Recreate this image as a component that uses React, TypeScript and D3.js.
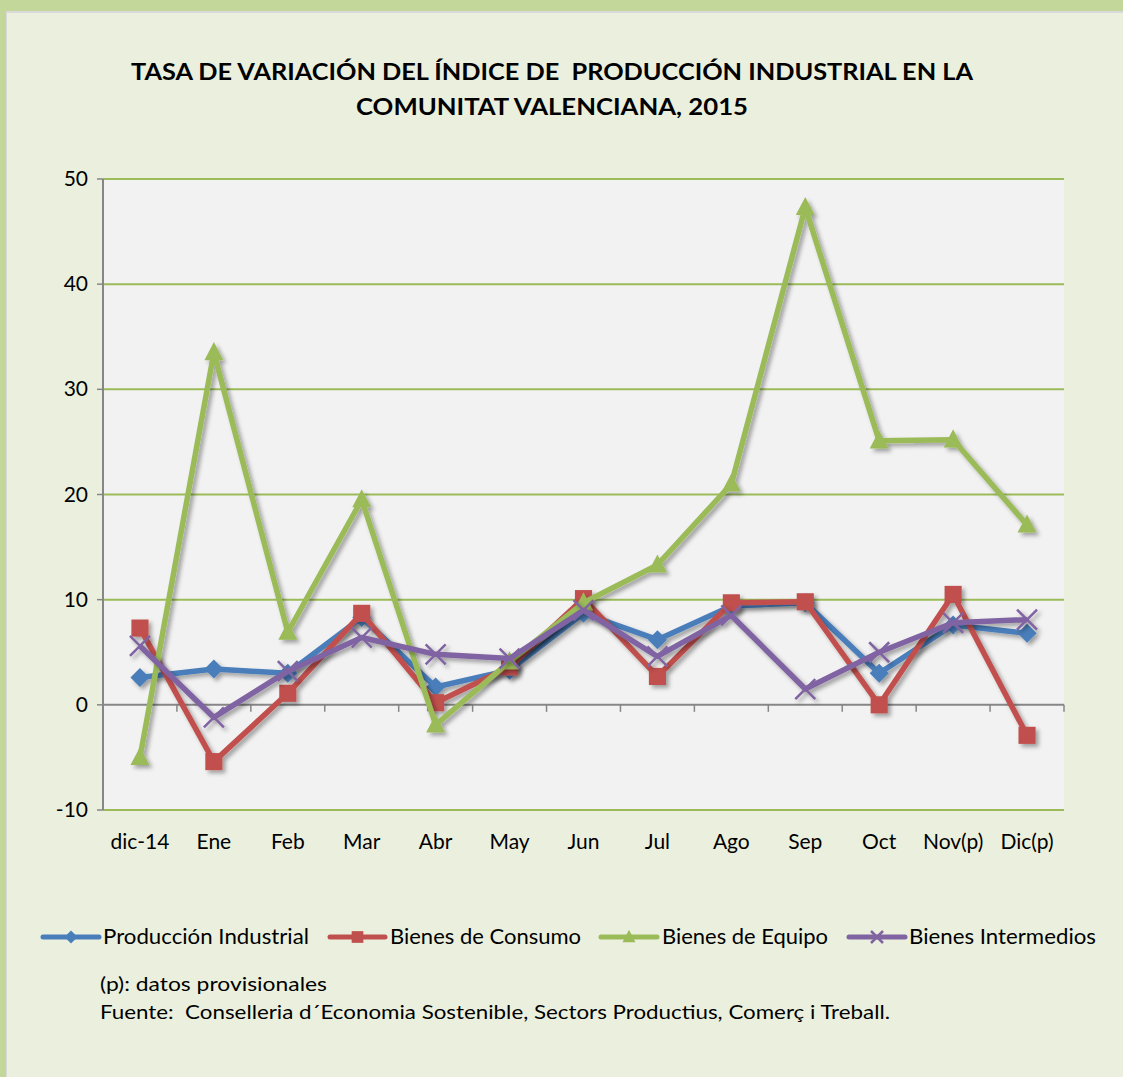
import React, { useEffect, useRef } from 'react';
import * as d3 from 'd3';

const categories = ['dic-14', 'Ene', 'Feb', 'Mar', 'Abr', 'May', 'Jun', 'Jul', 'Ago', 'Sep', 'Oct', 'Nov(p)', 'Dic(p)'];
const produccionIndustrial = [2.6, 3.4, 3.0, 8.3, 1.7, 3.3, 8.7, 6.2, 9.4, 9.7, 3.0, 7.6, 6.8];
const bienesConsumo = [7.3, -5.4, 1.1, 8.7, 0.2, 3.6, 10.1, 2.7, 9.7, 9.8, 0.0, 10.5, -2.9];
const bienesEquipo = [-5.0, 33.5, 6.9, 19.5, -1.9, 4.1, 9.7, 13.3, 21.0, 47.3, 25.1, 25.2, 17.1];
const bienesIntermedios = [5.6, -1.2, 3.2, 6.4, 4.8, 4.4, 9.0, 4.6, 8.5, 1.5, 5.0, 7.8, 8.1];
const yTicks = [-10, 0, 10, 20, 30, 40, 50];

const seriesNames = ['Producción Industrial', 'Bienes de Consumo', 'Bienes de Equipo', 'Bienes Intermedios'];
const seriesValues = [produccionIndustrial, bienesConsumo, bienesEquipo, bienesIntermedios];
const seriesColors = ['#4a7ebb', '#c0504d', '#9bbb59', '#8064a2'];
const seriesMarkers = ['diamond', 'square', 'triangle', 'cross'];

const W = 1123;
const H = 1077;
const FONT = 'Lato, "Noto Sans", sans-serif';

const App = () => {
  const ref = useRef<SVGSVGElement>(null);

  useEffect(() => {
    const svg = d3.select(ref.current);
    svg.selectAll('*').remove();

    // fondo y marco
    svg.append('rect').attr('width', W).attr('height', H).attr('fill', '#c4d79b');
    svg.append('rect').attr('x', 6).attr('y', 11).attr('width', W - 6).attr('height', H - 11).attr('fill', '#d9d9d9');
    svg.append('rect').attr('x', 7).attr('y', 13).attr('width', W - 7).attr('height', H - 13).attr('fill', '#ebf0de');

    const defs = svg.append('defs');
    const f = defs.append('filter').attr('id', 'sombra').attr('x', '-10%').attr('y', '-10%').attr('width', '130%').attr('height', '130%');
    f.append('feDropShadow').attr('dx', 3).attr('dy', 3).attr('stdDeviation', 2)
      .attr('flood-color', '#000').attr('flood-opacity', 0.35);

    // titulo
    const title = svg.append('g').attr('font-family', FONT).attr('font-weight', 'bold').attr('font-size', 23)
      .attr('fill', '#000').attr('text-anchor', 'middle');
    title.append('text').attr('x', 552).attr('y', 80).attr('xml:space', 'preserve')
      .attr('textLength', 842).attr('lengthAdjust', 'spacingAndGlyphs')
      .text('TASA DE VARIACIÓN DEL ÍNDICE DE  PRODUCCIÓN INDUSTRIAL EN LA');
    title.append('text').attr('x', 552).attr('y', 115)
      .attr('textLength', 392).attr('lengthAdjust', 'spacingAndGlyphs')
      .text('COMUNITAT VALENCIANA, 2015');

    const left = 103, right = 1064, top = 179, bottom = 810;
    svg.append('rect').attr('x', left).attr('y', top).attr('width', right - left).attr('height', bottom - top).attr('fill', '#f2f2f2');

    const x = d3.scaleBand().domain(categories).range([left, right]);
    const y = d3.scaleLinear().domain([-10, 50]).range([bottom, top]);

    // lineas de cuadricula
    svg.append('g').selectAll('line').data(yTicks.filter(d => d !== 0)).enter().append('line')
      .attr('x1', left).attr('x2', right).attr('y1', d => y(d)).attr('y2', d => y(d))
      .attr('stroke', '#9bbb59').attr('stroke-width', 2);

    // eje y
    svg.append('line').attr('x1', left).attr('x2', left).attr('y1', top).attr('y2', bottom)
      .attr('stroke', '#868686').attr('stroke-width', 2);
    svg.append('g').selectAll('line').data(yTicks).enter().append('line')
      .attr('x1', left - 6).attr('x2', left).attr('y1', d => y(d)).attr('y2', d => y(d))
      .attr('stroke', '#868686').attr('stroke-width', 1.5);
    svg.append('g').attr('font-family', FONT).attr('font-size', 21).attr('text-anchor', 'end')
      .selectAll('text').data(yTicks).enter().append('text')
      .attr('x', 88).attr('y', d => y(d) + 7).text(d => d);

    // eje x en cero
    const boundaries = categories.map(c => (x(c) as number) + x.bandwidth());
    svg.append('line').attr('x1', left).attr('x2', right).attr('y1', y(0)).attr('y2', y(0))
      .attr('stroke', '#868686').attr('stroke-width', 2);
    svg.append('g').selectAll('line').data(boundaries).enter().append('line')
      .attr('x1', d => d).attr('x2', d => d).attr('y1', y(0)).attr('y2', y(0) + 7)
      .attr('stroke', '#868686').attr('stroke-width', 1.5);
    svg.append('g').attr('font-family', FONT).attr('font-size', 21).attr('text-anchor', 'middle')
      .selectAll('text').data(categories).enter().append('text')
      .attr('x', d => (x(d) as number) + x.bandwidth() / 2).attr('y', 849).text(d => d);

    const drawMarker = (g, type, cx, cy, color, s) => {
      if (type === 'diamond') {
        g.append('path').attr('d', `M${cx},${cy - s}L${cx + s},${cy}L${cx},${cy + s}L${cx - s},${cy}Z`).attr('fill', color);
      } else if (type === 'square') {
        g.append('rect').attr('x', cx - s * 0.9).attr('y', cy - s * 0.9).attr('width', s * 1.8).attr('height', s * 1.8).attr('fill', color);
      } else if (type === 'triangle') {
        g.append('path').attr('d', `M${cx},${cy - s * 1.1}L${cx + s},${cy + s * 0.8}L${cx - s},${cy + s * 0.8}Z`).attr('fill', color);
      } else {
        g.append('path').attr('d', `M${cx - s},${cy - s}L${cx + s},${cy + s}M${cx - s},${cy + s}L${cx + s},${cy - s}`)
          .attr('stroke', color).attr('stroke-width', 2.5);
      }
    };

    const line = d3.line<number>()
      .x((d, i) => (x(categories[i]) as number) + x.bandwidth() / 2)
      .y(d => y(d));

    seriesValues.forEach((vals, si) => {
      const g = svg.append('g').attr('filter', 'url(#sombra)');
      g.append('path').datum(vals).attr('d', line).attr('fill', 'none')
        .attr('stroke', seriesColors[si]).attr('stroke-width', 5.5).attr('stroke-linejoin', 'round');
      vals.forEach((v, i) => {
        drawMarker(g, seriesMarkers[si], (x(categories[i]) as number) + x.bandwidth() / 2, y(v), seriesColors[si], si === 3 ? 10 : 9.5);
      });
    });

    // leyenda
    const legendItems = [
      { x1: 43, x2: 99, tx: 103, tw: 206 },
      { x1: 330, x2: 385, tx: 390, tw: 191 },
      { x1: 601, x2: 657, tx: 662, tw: 166 },
      { x1: 849, x2: 905, tx: 909, tw: 187 },
    ];
    const ly = 937;
    legendItems.forEach((it, si) => {
      const g = svg.append('g');
      g.append('line').attr('x1', it.x1).attr('x2', it.x2).attr('y1', ly).attr('y2', ly)
        .attr('stroke', seriesColors[si]).attr('stroke-width', 5).attr('stroke-linecap', 'round');
      drawMarker(g, seriesMarkers[si], (it.x1 + it.x2) / 2, ly, seriesColors[si], si === 3 ? 6 : 6.5);
      g.append('text').attr('x', it.tx).attr('y', ly + 7).attr('font-family', FONT).attr('font-size', 21)
        .attr('textLength', it.tw).attr('lengthAdjust', 'spacingAndGlyphs')
        .text(seriesNames[si]);
    });

    // notas
    const notes = svg.append('g').attr('font-family', FONT).attr('font-size', 20).attr('fill', '#000')
      .attr('lengthAdjust', 'spacingAndGlyphs');
    notes.append('text').attr('x', 100).attr('y', 991).attr('textLength', 227).attr('lengthAdjust', 'spacingAndGlyphs')
      .text('(p): datos provisionales');
    notes.append('text').attr('x', 100).attr('y', 1019).attr('xml:space', 'preserve')
      .attr('textLength', 790).attr('lengthAdjust', 'spacingAndGlyphs')
      .text('Fuente:  Conselleria d´Economia Sostenible, Sectors Productius, Comerç i Treball.');
  }, []);

  return (
    <svg ref={ref} width={W} height={H} style={{ position: 'absolute', left: 0, top: 0 }}>
    </svg>
  );
};

export default App;
